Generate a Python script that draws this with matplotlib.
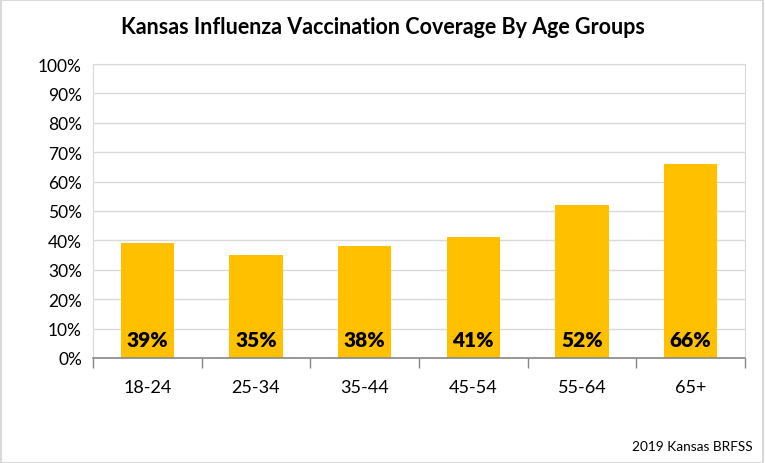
import matplotlib.pyplot as plt
import numpy as np
from matplotlib.ticker import PercentFormatter
from matplotlib.patches import Rectangle

age_groups = ['18-24', '25-34', '35-44', '45-54', '55-64', '65+']
coverage = [39, 35, 38, 41, 52, 66]
y_ticks = list(range(0, 101, 10))

plt.rcParams['font.family'] = ['Lato', 'DejaVu Sans']

fig = plt.figure(figsize=(7.65, 4.64), dpi=100)
ax = fig.add_axes([93/765, 1 - 359/464, (745 - 93)/765, (359 - 65)/464])

x = np.arange(len(age_groups))
ax.bar(x, coverage, width=0.49, color='#FFC000', zorder=3)

# labels sit near the bottom of each bar
for xi, v in zip(x, coverage):
    ax.text(xi, 6.2, f'{v}%', ha='center', va='center', fontsize=15,
            fontweight='heavy', color='black', zorder=4)

ax.set_xlim(-0.5, len(age_groups) - 0.5)
ax.set_ylim(0, 100)
ax.set_yticks(y_ticks)
ax.yaxis.set_major_formatter(PercentFormatter(decimals=0))
ax.set_xticks(x)
ax.set_xticklabels(age_groups)
ax.set_xticks(np.arange(-0.5, len(age_groups)), minor=True)

ax.grid(axis='y', color='#D9D9D9', linewidth=1, zorder=0)
ax.tick_params(axis='y', length=0, pad=8, labelsize=12.5)
ax.tick_params(axis='x', which='major', length=0, pad=15, labelsize=13)
ax.tick_params(axis='x', which='minor', length=7, width=1, color='#868686')

for side in ['left', 'top', 'right']:
    ax.spines[side].set_color('#D9D9D9')
ax.spines['bottom'].set_color('#868686')
ax.spines['bottom'].set_linewidth(1.2)
ax.spines['bottom'].set_zorder(5)

fig.text(0.5, 1 - 27/464, 'Kansas Influenza Vaccination Coverage By Age Groups',
         ha='center', va='center', fontsize=15.5, fontweight='bold')
fig.text(753/765, 1 - 447/464, '2019 Kansas BRFSS', ha='right', va='center',
         fontsize=9.8)

fig.patches.append(Rectangle((0.001, 0.001), 0.997, 0.997, transform=fig.transFigure,
                             fill=False, edgecolor='#D9D9D9', linewidth=1.5))

fig.savefig('out.png', dpi=100)
